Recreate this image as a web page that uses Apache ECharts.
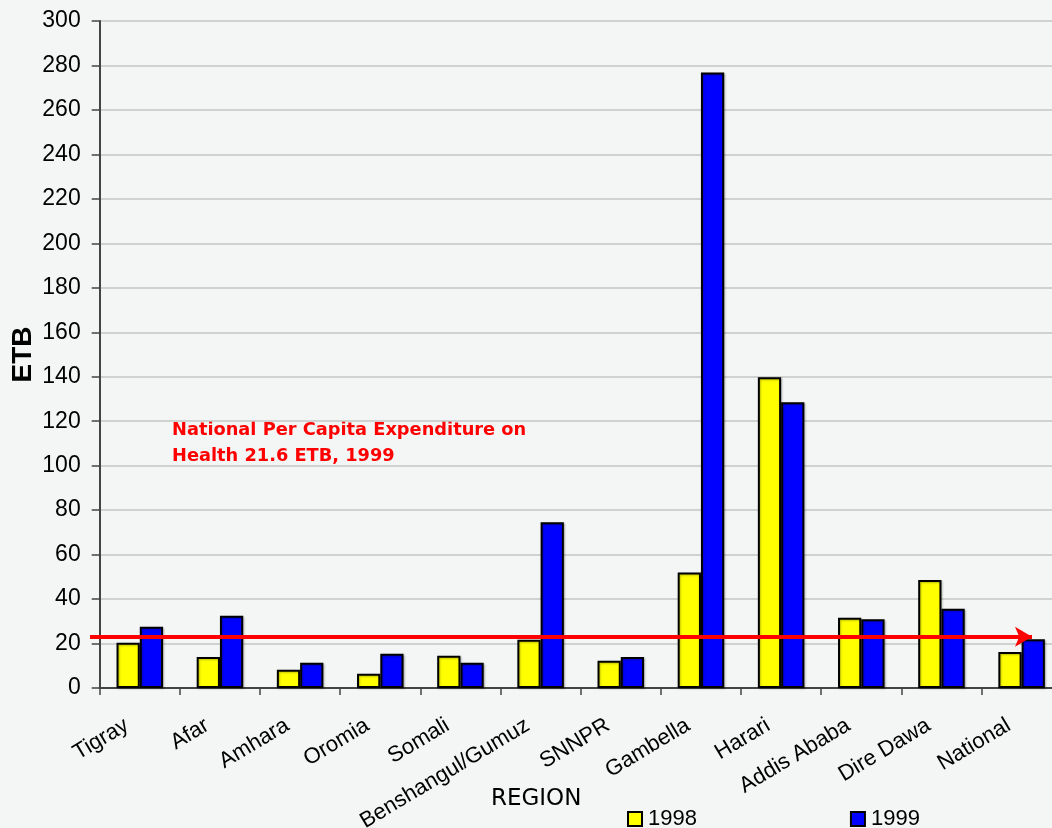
<!DOCTYPE html>
<html>
<head>
<meta charset="utf-8">
<script src="https://cdn.jsdelivr.net/npm/echarts@6/dist/echarts.min.js"></script>
<style>
  html, body { margin: 0; padding: 0; background: #f3f6f5; }
  #chart { width: 1052px; height: 828px; }
</style>
</head>
<body>
<div id="chart"></div>
<script>
  // regions and per capita health expenditure (ETB)
  var regions = ['Tigray', 'Afar', 'Amhara', 'Oromia', 'Somali', 'Benshangul/Gumuz',
    'SNNPR', 'Gambella', 'Harari', 'Addis Ababa', 'Dire Dawa', 'National'];
  var values1998 = [20.4, 13.9, 8.2, 6.4, 14.5, 21.7, 12.3, 51.9, 139.8, 31.6, 48.6, 16.2];
  var values1999 = [27.6, 32.5, 11.4, 15.4, 11.4, 74.6, 13.9, 276.8, 128.5, 30.9, 35.7, 21.9];
  var yTicks = { min: 0, max: 300, interval: 20 };
  var nationalLevel = 23;

  var chart = echarts.init(document.getElementById('chart'));

  var barStyle = function (color) {
    return {
      color: color,
      borderColor: '#000',
      borderWidth: 2,
      shadowColor: 'rgba(0,0,0,0.25)',
      shadowBlur: 2,
      shadowOffsetX: 1,
      shadowOffsetY: 1
    };
  };

  var option = {
    backgroundColor: '#f3f6f5',
    animation: false,
    title: {
      text: 'REGION',
      left: 486,
      top: 783,
      textStyle: { fontFamily: 'DejaVu Sans', fontSize: 23, fontWeight: 'normal', color: '#000' }
    },
    legend: {
      data: ['1998', '1999'],
      left: 622,
      top: 803,
      itemGap: 153,
      itemWidth: 14,
      itemHeight: 14,
      icon: 'rect',
      textStyle: { fontFamily: 'Liberation Sans', fontSize: 22, color: '#000', padding: [0, 0, 0, 1] }
    },
    graphic: [{
      type: 'text',
      left: 172,
      top: 417,
      style: {
        text: 'National Per Capita Expenditure on\nHealth 21.6 ETB, 1999',
        fill: '#ff0000',
        font: 'bold 17.8px "DejaVu Sans"',
        lineHeight: 26
      }
    }],
    grid: {
      left: 99.7,
      top: 21,
      width: 962,
      height: 667,
      containLabel: false,
      outerBoundsMode: 'none'
    },
    xAxis: {
      type: 'category',
      data: regions,
      axisLine: { lineStyle: { color: '#444', width: 2 } },
      axisTick: { show: true, length: 7, lineStyle: { color: '#444', width: 1.5 } },
      axisLabel: {
        rotate: 31,
        margin: 28,
        interval: 0,
        padding: [0, 15, 0, 0],
        fontFamily: 'Liberation Sans',
        fontSize: 22,
        color: '#000'
      },
      splitLine: { show: false }
    },
    yAxis: {
      type: 'value',
      min: yTicks.min,
      max: yTicks.max,
      interval: yTicks.interval,
      name: 'ETB',
      nameLocation: 'middle',
      nameRotate: 90,
      nameGap: 62,
      nameMoveOverlap: false,
      nameTextStyle: { fontFamily: 'Liberation Sans', fontSize: 28, fontWeight: 'bold', color: '#000' },
      axisLine: { show: true, lineStyle: { color: '#444', width: 2 } },
      axisTick: { show: true, length: 8, lineStyle: { color: '#444', width: 1.5 } },
      axisLabel: { margin: 19, fontFamily: 'Liberation Sans', fontSize: 23, color: '#000' },
      splitLine: { lineStyle: { color: '#c4c4c4', width: 1.5 } }
    },
    series: [
      {
        name: '1998',
        type: 'bar',
        data: values1998,
        barGap: '0%',
        barCategoryGap: '42%',
        itemStyle: barStyle('#ffff00')
      },
      {
        name: '1999',
        type: 'bar',
        data: values1999,
        barGap: '0%',
        barCategoryGap: '42%',
        itemStyle: barStyle('#0000ff'),
        markLine: {
          silent: true,
          symbol: ['none', 'arrow'],
          symbolSize: [15, 17],
          label: { show: false },
          lineStyle: { color: '#ff0000', width: 4, type: 'solid' },
          data: [[
            { xAxis: regions[0], yAxis: nationalLevel, x: 90 },
            { xAxis: regions[regions.length - 1], yAxis: nationalLevel, x: 1032 }
          ]]
        }
      }
    ]
  };

  chart.setOption(option);
</script>
</body>
</html>
